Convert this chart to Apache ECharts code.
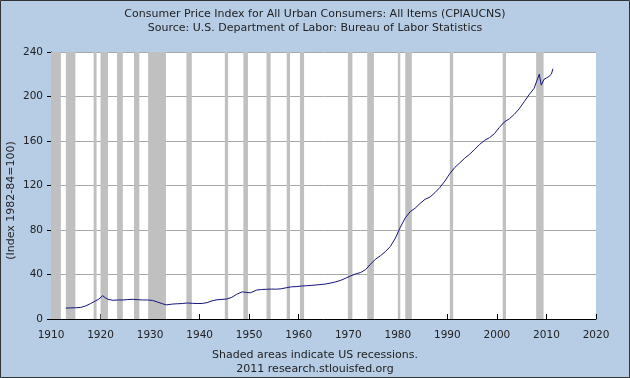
<!DOCTYPE html>
<html><head><meta charset="utf-8">
<script src="https://cdn.jsdelivr.net/npm/echarts@6/dist/echarts.min.js"></script>
<style>html,body{margin:0;padding:0;background:#b7cde5;}#c{width:630px;height:378px;}</style>
</head><body><div id="c"></div>
<script>
// CPI (Index 1982-84=100), x = decimal year
const years = [1913.0,1914.0,1915.0,1916.0,1917.0,1918.0,1919.0,1919.5,1920.45,1921.0,1921.5,1922.5,1923.5,1924.5,1925.5,1926.5,1927.5,1928.5,1929.5,1930.5,1931.5,1932.5,1933.3,1934.5,1935.5,1936.5,1937.5,1938.5,1939.5,1940.5,1941.5,1942.5,1943.5,1944.5,1945.5,1946.5,1947.5,1948.6,1949.5,1950.3,1950.5,1951.5,1952.5,1953.5,1954.5,1955.5,1956.5,1957.5,1958.5,1959.5,1960.5,1961.5,1962.5,1963.5,1964.5,1965.5,1966.5,1967.5,1968.5,1969.5,1970.5,1971.5,1972.5,1973.5,1974.5,1975.5,1976.5,1977.5,1978.5,1979.5,1980.5,1981.5,1982.5,1983.5,1984.5,1985.5,1986.5,1987.5,1988.5,1989.5,1990.5,1991.5,1992.5,1993.5,1994.5,1995.5,1996.5,1997.5,1998.5,1999.5,2000.5,2001.5,2002.5,2003.5,2004.5,2005.5,2006.5,2007.5,2008.55,2008.95,2009.5,2010.0,2010.5,2011.0,2011.3];
const cpi = [9.8,10.0,10.1,10.4,11.7,13.9,16.4,17.4,20.9,19.0,17.7,16.8,17.1,17.1,17.5,17.7,17.4,17.1,17.1,16.7,15.2,13.7,12.7,13.4,13.7,13.9,14.4,14.1,13.9,14.0,14.7,16.3,17.3,17.6,18.0,19.5,22.3,24.4,23.8,23.6,24.1,26.0,26.5,26.7,26.9,26.8,27.2,28.1,28.9,29.1,29.6,29.9,30.2,30.6,31.0,31.5,32.4,33.4,34.8,36.7,38.8,40.5,41.8,44.4,49.3,53.8,56.9,60.6,65.2,72.6,82.4,90.9,96.5,99.6,103.9,107.6,109.6,113.6,118.3,124.0,130.7,136.2,140.3,144.5,148.2,152.4,156.9,160.5,163.0,166.6,172.2,177.1,179.9,184.0,188.9,195.3,201.6,207.3,220.0,210.2,215.4,216.7,218.0,220.2,224.9];
// US recessions (start, end) decimal years
const recStart = [1910.0,1913.0,1918.6,1920.0,1923.33,1926.75,1929.6,1937.33,1945.08,1948.83,1953.5,1957.58,1960.25,1969.92,1973.83,1980.0,1981.5,1990.5,2001.17,2007.92];
const recEnd   = [1912.0,1914.92,1919.2,1921.5,1924.5,1927.83,1933.2,1938.42,1945.75,1949.75,1954.33,1958.25,1961.08,1970.83,1975.17,1980.5,1982.83,1991.17,2001.83,2009.42];
const xTicks = {min:1910, max:2020, interval:10};
const yTicks = {min:0, max:240, interval:40};
const titleLines = ['Consumer Price Index for All Urban Consumers: All Items (CPIAUCNS)','Source: U.S. Department of Labor: Bureau of Labor Statistics'];
const footLines = ['Shaded areas indicate US recessions.','2011 research.stlouisfed.org'];

const font = 'DejaVu Sans';
const txt = (s, y) => ({type:'text', x:315, y:y, silent:true,
  style:{text:s, fontFamily:font, fontSize:11, fill:'#222', textAlign:'center', textVerticalAlign:'middle'}});
const chart = echarts.init(document.getElementById('c'), null, {renderer:'canvas'});
chart.setOption({
  backgroundColor:'#b7cde5',
  animation:false,
  graphic:[
    {type:'rect', shape:{x:0.5,y:0.5,width:629,height:377}, style:{fill:null, stroke:'#333', lineWidth:1}, silent:true},
    txt(titleLines[0], 14), txt(titleLines[1], 28),
    txt(footLines[0], 355), txt(footLines[1], 369)
  ],
  grid:{left:51, right:34, top:52, bottom:59, show:true, backgroundColor:'#fff', borderWidth:0, outerBoundsMode:'none', containLabel:false},
  xAxis:{type:'value', min:xTicks.min, max:xTicks.max, interval:xTicks.interval,
    axisLine:{lineStyle:{color:'#000', width:1}},
    axisTick:{inside:true, length:5, lineStyle:{color:'#000'}},
    axisLabel:{fontFamily:font, fontSize:10.5, color:'#222', margin:11, formatter:v=>String(v)},
    splitLine:{show:false}},
  yAxis:{type:'value', min:yTicks.min, max:yTicks.max, interval:yTicks.interval,
    name:'(Index 1982-84=100)', nameLocation:'middle', nameGap:34, nameMoveOverlap:false,
    nameTextStyle:{fontFamily:font, fontSize:11, color:'#222', padding:[0,30,0,0]},
    axisLine:{show:true, lineStyle:{color:'#000', width:1}},
    axisTick:{show:true, length:4, lineStyle:{color:'#000'}},
    axisLabel:{fontFamily:font, fontSize:10.5, color:'#222', margin:8},
    splitLine:{show:true, lineStyle:{color:'#a8a8a8', width:1}}},
  series:[{
    type:'line', data:years.map((y,i)=>[y,cpi[i]]), showSymbol:false,
    lineStyle:{color:'#14147f', width:1}, z:5,
    markArea:{silent:true, itemStyle:{color:'#c0c0c0'},
      data:recStart.map((s,i)=>[{xAxis:s},{xAxis:recEnd[i]}])}
  }]
});
</script></body></html>
